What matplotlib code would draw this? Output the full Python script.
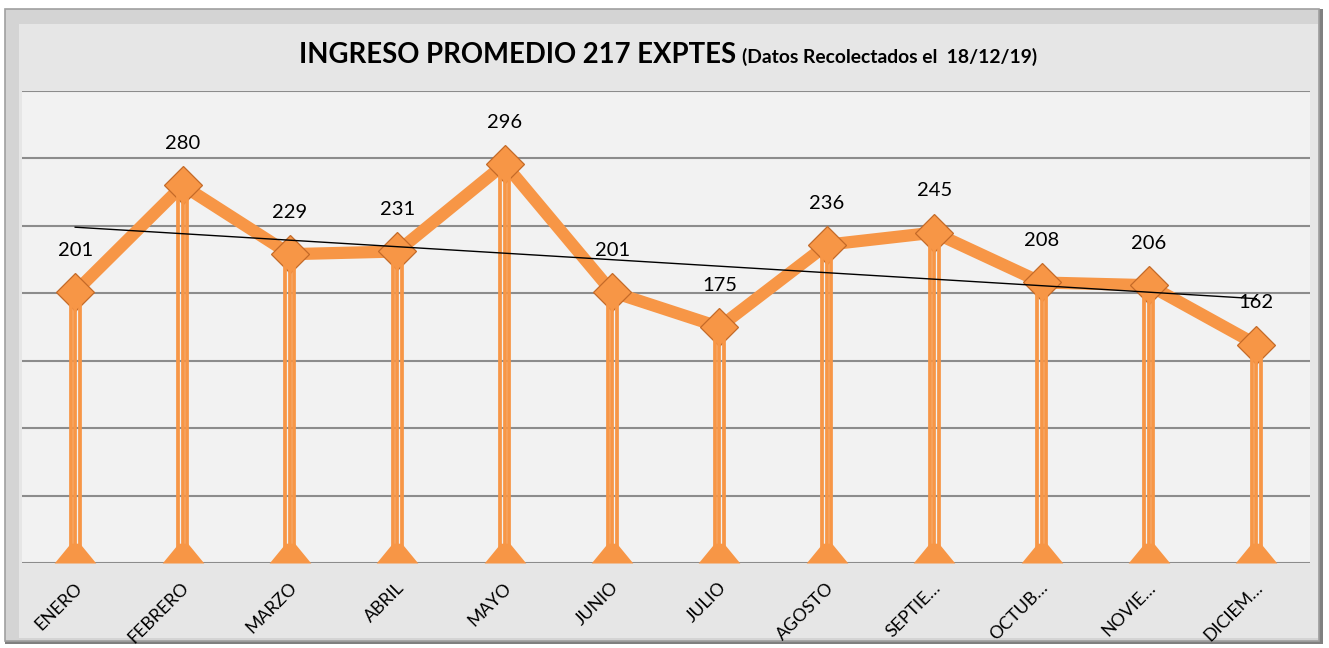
import matplotlib.pyplot as plt
import numpy as np
from matplotlib.patches import Rectangle
from matplotlib.path import Path

# Data
months = ['ENERO', 'FEBRERO', 'MARZO', 'ABRIL', 'MAYO', 'JUNIO', 'JULIO',
          'AGOSTO', 'SEPTIE…', 'OCTUB…', 'NOVIE…', 'DICIEM…']
ingresos = [201, 280, 229, 231, 296, 201, 175, 236, 245, 208, 206, 162]

W, H = 1329, 648
plt.rcParams['font.family'] = ['Lato', 'DejaVu Sans']

fig = plt.figure(figsize=(W / 100, H / 100), dpi=100)
fig.patch.set_facecolor('white')


def fx(x):
    return x / W


def fy(y):
    return 1 - y / H


# outer frame with a simple bevel (drawn behind the axes)
fig.add_artist(Rectangle((fx(5), fy(644)), fx(1323) - fx(5), fy(9) - fy(644),
                         transform=fig.transFigure, facecolor='#7f7f7f', edgecolor='none',
                         zorder=-10))
fig.add_artist(Rectangle((fx(5), fy(641)), fx(1319) - fx(5), fy(9) - fy(641),
                         transform=fig.transFigure, facecolor='#d4d4d4', edgecolor='#a0a0a0',
                         lw=1.2, zorder=-9))
fig.add_artist(Rectangle((fx(19), fy(638)), fx(1318) - fx(19), fy(24) - fy(638),
                         transform=fig.transFigure, facecolor='#e6e6e6', edgecolor='none',
                         zorder=-8))

ax = fig.add_axes([fx(21.5), fy(563), fx(1310) - fx(21.5), fy(91) - fy(563)])
ax.set_facecolor('#f2f2f2')
for s in ax.spines.values():
    s.set_visible(False)

x = np.arange(len(months))
orange = '#f79646'

ax.set_xlim(-0.5, len(months) - 0.5)
ax.set_ylim(0, 350)
ax.set_yticks(np.arange(0, 351, 50))
ax.set_yticklabels([])
ax.yaxis.grid(True, color='#8c8c8c', lw=1.5)
ax.set_axisbelow(True)
ax.tick_params(length=0)
ax.set_xticks(x)
ax.set_xticklabels([])

# main line with diamonds
ax.plot(x, ingresos, color=orange, lw=8.8, solid_joinstyle='miter', zorder=3, clip_on=False)
ax.plot(x, ingresos, ls='none', marker='D', ms=19.5, mfc=orange, mec='#c46a28', mew=0.9,
        zorder=4, clip_on=False)

# striped drop bars
for off in (-0.042, 0, 0.042):
    ax.vlines(x + off, 0, ingresos, color=orange, lw=2.7, zorder=5)

# base trapezoids
trap = Path([(-1, 0), (1, 0), (0.22, 0.95), (-0.22, 0.95), (-1, 0)],
            [Path.MOVETO, Path.LINETO, Path.LINETO, Path.LINETO, Path.CLOSEPOLY])
ax.plot(x, np.zeros(len(x)), ls='none', marker=trap, ms=30, mfc=orange, mec='none', zorder=6)

# linear trend
coef = np.polyfit(x, ingresos, 1)
ax.plot(x, np.polyval(coef, x), color='black', lw=1.0, zorder=7)

for xi, v in zip(x, ingresos):
    ax.annotate(str(v), (xi, v), xytext=(0, 30), textcoords='offset points',
                ha='center', va='center', fontsize=14.5, color='black', zorder=8)

for xi, m in zip(x, months):
    ax.annotate(m, (xi, 0), xytext=(3, -16), textcoords='offset points',
                ha='right', va='center', rotation=45, rotation_mode='anchor',
                fontsize=12.8, color='black', annotation_clip=False)

# title
fig.text(fx(299), fy(63), 'INGRESO PROMEDIO 217 EXPTES', fontsize=19.8, fontweight='bold',
         ha='left', va='baseline')
fig.text(fx(742), fy(63), '(Datos Recolectados el  18/12/19)', fontsize=13.9, fontweight='bold',
         ha='left', va='baseline')

fig.savefig('out.png', dpi=100)
